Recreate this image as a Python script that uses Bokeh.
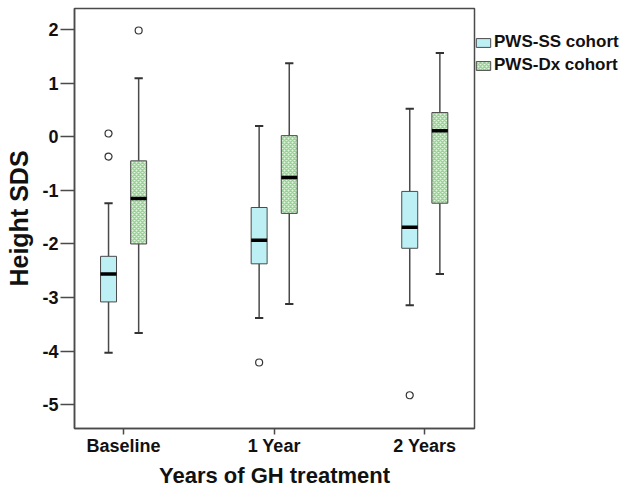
import numpy as np
from bokeh.plotting import figure
from bokeh.models import Range1d, FixedTicker, Legend, LegendItem
from bokeh.embed import file_html
from bokeh.resources import INLINE

categories = ["Baseline", "1 Year", "2 Years"]
y_ticks = [-5, -4, -3, -2, -1, 0, 1, 2]

# PWS-SS cohort
ss_low = [-4.03, -3.38, -3.14]
ss_q1 = [-3.08, -2.37, -2.08]
ss_med = [-2.56, -1.93, -1.69]
ss_q3 = [-2.23, -1.32, -1.02]
ss_high = [-1.24, 0.20, 0.52]
ss_out_cat = [0, 0, 1, 2]
ss_out_val = [0.06, -0.37, -4.21, -4.82]

# PWS-Dx cohort
dx_low = [-3.66, -3.12, -2.56]
dx_q1 = [-2.00, -1.43, -1.24]
dx_med = [-1.15, -0.76, 0.11]
dx_q3 = [-0.45, 0.02, 0.45]
dx_high = [1.09, 1.37, 1.56]
dx_out_cat = [0]
dx_out_val = [1.98]

FONT = "Liberation Sans"
EDGE = "#4a4a4a"

p = figure(frame_width=400, frame_height=420, x_range=Range1d(0.674, 3.33),
           y_range=Range1d(-5.44, 2.39), output_backend="svg",
           toolbar_location=None, min_border_top=8, min_border_left=74,
           min_border_right=0, min_border_bottom=0)
p.grid.visible = False
p.outline_line_color = EDGE
p.outline_line_width = 1.5

centers = np.arange(1, len(categories) + 1)
off = 0.1
bw = 0.106
cap = 0.055


def draw(xs, low, q1, med, q3, high, out_cat, out_val, fill, **hatch):
    x = xs
    p.segment(x, q3, x, high, line_color=EDGE, line_width=1.5)
    p.segment(x, q1, x, low, line_color=EDGE, line_width=1.5)
    p.segment(x - cap / 2, high, x + cap / 2, high, line_color="#333333", line_width=2)
    p.segment(x - cap / 2, low, x + cap / 2, low, line_color="#333333", line_width=2)
    r = p.vbar(x=x, width=bw, bottom=q1, top=q3, fill_color=fill,
               line_color=EDGE, line_width=1, **hatch)
    p.segment(x - bw / 2, med, x + bw / 2, med, line_color="black", line_width=3.5)
    ox = np.array([xs[i] for i in out_cat])
    p.scatter(ox, out_val, marker="circle", size=7, fill_color="white",
              line_color="#333333", line_width=1.2)
    return r


r_ss = draw(centers - off, ss_low, ss_q1, ss_med, ss_q3, ss_high,
            ss_out_cat, ss_out_val, "#bdf0f4")
r_dx = draw(centers + off, dx_low, dx_q1, dx_med, dx_q3, dx_high,
            dx_out_cat, dx_out_val, "#e2f4de",
            hatch_pattern="diagonal_cross", hatch_scale=4, hatch_weight=1.5,
            hatch_color="#99d199")

# axes
p.yaxis.ticker = FixedTicker(ticks=y_ticks)
p.yaxis.major_label_overrides = {t: str(t) for t in y_ticks}
p.xaxis.ticker = FixedTicker(ticks=list(centers))
p.xaxis.major_label_overrides = {int(c): lab for c, lab in zip(centers, categories)}
for ax in (p.xaxis, p.yaxis):
    ax.axis_line_color = EDGE
    ax.axis_line_width = 1.5
    ax.major_tick_line_color = EDGE
    ax.major_tick_line_width = 1.5
    ax.major_tick_in = 0
    ax.minor_tick_line_color = None
    ax.major_label_text_font = FONT
    ax.major_label_text_font_style = "bold"
    ax.major_label_text_font_size = "18px"
    ax.major_label_text_color = "#111111"
    ax.axis_label_text_font = FONT
    ax.axis_label_text_font_style = "bold"
    ax.axis_label_text_color = "#111111"
p.yaxis.major_tick_out = 14
p.yaxis.major_label_standoff = 2
p.xaxis.major_tick_out = 6
p.xaxis.major_label_standoff = 1
p.xaxis.axis_label = "Years of GH treatment"
p.yaxis.axis_label = "Height SDS"
p.xaxis.axis_label_text_font_size = "22px"
p.yaxis.axis_label_text_font_size = "25px"
p.xaxis.axis_label_standoff = 4
p.yaxis.axis_label_standoff = 6

legend = Legend(items=[LegendItem(label="PWS-SS cohort", renderers=[r_ss]),
                       LegendItem(label="PWS-Dx cohort", renderers=[r_dx])],
                location=(0, 353), orientation="vertical",
                glyph_width=18, glyph_height=11, label_height=11,
                spacing=3, padding=0, margin=0, label_standoff=2,
                border_line_alpha=0, background_fill_alpha=0,
                label_text_font=FONT, label_text_font_style="bold",
                label_text_font_size="17px", label_text_color="#111111")
p.add_layout(legend, "right")

open("out.html", "w").write(file_html(p, INLINE))
